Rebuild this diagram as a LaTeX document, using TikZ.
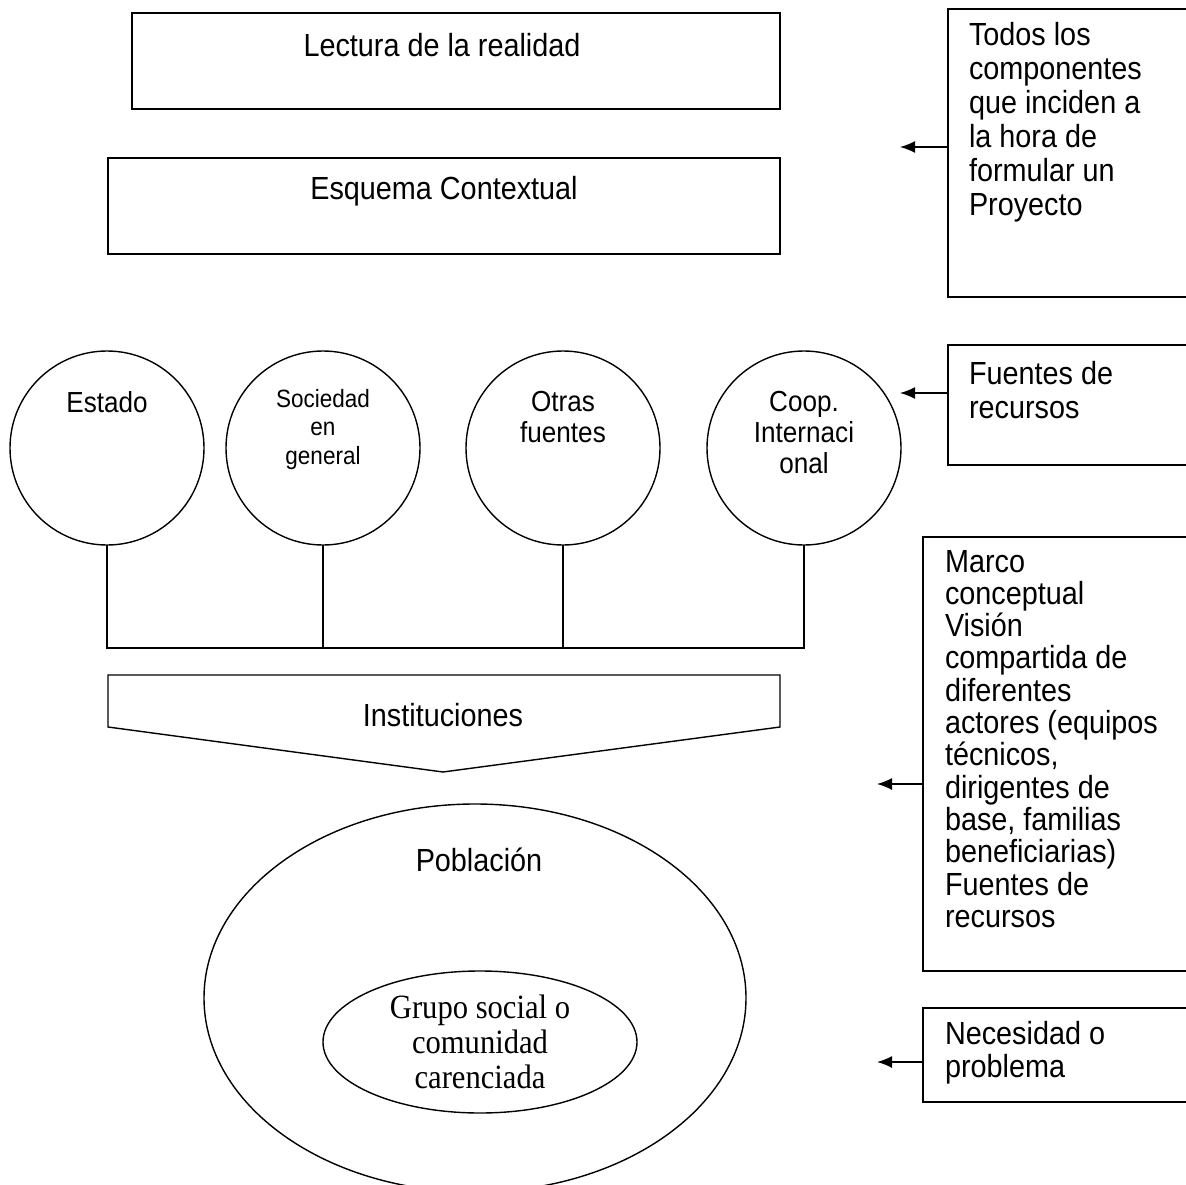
\documentclass[tikz,border=0pt]{standalone}
\usepackage{fontspec}
\setmainfont{Liberation Sans}[FakeStretch=0.9]
\newfontfamily\timesface{Liberation Serif}[FakeStretch=0.9]
\usetikzlibrary{arrows.meta,positioning,shapes.geometric}

\begin{document}
\begin{tikzpicture}[x=1pt,y=-1pt,inner sep=0pt,outer sep=0pt,line width=1.4pt,
	framebox/.style={draw,rectangle,anchor=north west},
	fuente/.style={draw,circle,minimum size=194pt},
	bigtext/.style={font=\fontsize{32}{33.5}\selectfont},
	circtext/.style={align=center,anchor=north,font=\fontsize{29}{31}\selectfont},
	nota/.style={align=left,anchor=north west,font=\fontsize{32}{34}\selectfont},
	flecha/.style={-{Latex[length=15pt,width=12pt]}}]
	\useasboundingbox (0,0) rectangle (1186,1185);
	% cuadros superiores
	\draw (132,13) node[framebox,minimum width=648pt,minimum height=96pt] (lectura) {};
	\draw (lectura.north) ++(-14,44) node[anchor=base,bigtext] (lecturatxt) {Lectura de la realidad};
	\draw (108,158) node[framebox,minimum width=672pt,minimum height=96pt] (esquema) {};
	\draw (esquema.north) ++(0,42) node[anchor=base,bigtext] (esquematxt) {Esquema Contextual};
	% fuentes de recursos
	\draw (107,448) node[fuente] (estado) {};
	\draw (323,448) node[fuente] (sociedad) {};
	\draw (563,448) node[fuente] (otras) {};
	\draw (804,448) node[fuente] (coop) {};
	\draw (estado.north) ++(0,40) node[circtext] (estadotxt) {Estado};
	\draw (sociedad.north) ++(0,38) node[circtext,font=\fontsize{25}{28.5}\selectfont] (sociedadtxt) {Sociedad\\en\\general};
	\draw (otras.north) ++(0,40) node[circtext] (otrastxt) {Otras\\fuentes};
	\draw (coop.north) ++(0,40) node[circtext] (cooptxt) {Coop.\\Internaci\\onal};
	\coordinate (bus) at (0,648);
	\draw (estado.south) -- (estado.south |- bus) -- (coop.south |- bus) -- (coop.south);
	\draw (sociedad.south) -- (sociedad.south |- bus);
	\draw (otras.south) -- (otras.south |- bus);
	% instituciones
	\draw (108,675) coordinate (inst1) -- (780,675) -- (780,727) -- (443,772) coordinate (inst) -- (108,727) -- cycle;
	\draw (443,715) node[bigtext] (instituciones) {Instituciones};
	% poblacion
	\draw (475,998) node[draw,ellipse,minimum width=542pt,minimum height=388pt] (poblacion) {};
	\draw (poblacion.north) ++(4,56) node[bigtext] (poblaciontxt) {Población};
	\draw (480,1042) node[draw,ellipse,minimum width=314pt,minimum height=142pt,align=center,
		font=\timesface\fontsize{34}{35}\selectfont] (grupo) {Grupo social o\\comunidad\\carenciada};
	% notas de la derecha
	\draw (948,9) node[framebox,minimum width=250pt,minimum height=288pt] (todos) {};
	\draw (todos.north west) ++(21,13) node[nota] (todostxt) {Todos los\\componentes\\que inciden a\\la hora de\\formular un\\Proyecto};
	\draw (948,345) node[framebox,minimum width=250pt,minimum height=120pt] (recursos) {};
	\draw (recursos.north west) ++(21,16) node[nota] (recursostxt) {Fuentes de\\recursos};
	\draw (923,537) node[framebox,minimum width=275pt,minimum height=434pt] (marco) {};
	\draw (marco.north west) ++(22,13) node[nota,font=\fontsize{32}{32.3}\selectfont] (marcotxt) {Marco\\conceptual\\Visión\\compartida de\\diferentes\\actores (equipos\\técnicos,\\dirigentes de\\base, familias\\beneficiarias)\\Fuentes de\\recursos};
	\draw (923,1008) node[framebox,minimum width=275pt,minimum height=94pt] (necesidad) {};
	\draw (necesidad.north west) ++(22,13) node[nota,font=\fontsize{32}{33}\selectfont] (necesidadtxt) {Necesidad o\\problema};
	% flechas
	\draw[flecha] (todos.west |- 0,147) -- ++(-48,0);
	\draw[flecha] (recursos.west |- 0,393) -- ++(-48,0);
	\draw[flecha] (marco.west |- 0,784) -- ++(-46,0);
	\draw[flecha] (necesidad.west |- 0,1062) -- ++(-46,0);
\end{tikzpicture}
\end{document}
